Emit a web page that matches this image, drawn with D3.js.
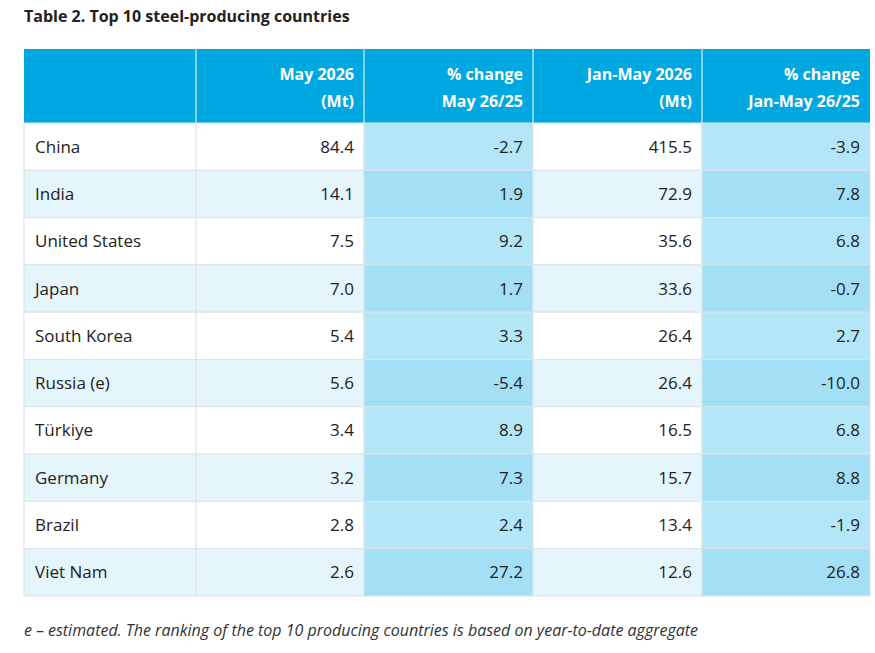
<!DOCTYPE html>
<html lang="en">
<head>
<meta charset="UTF-8">
<title>Top 10 steel-producing countries</title>
<script src="https://d3js.org/d3.v7.min.js"></script>
<style>
  body { margin: 0; background: #fff; font-family: "Open Sans", sans-serif; }
</style>
</head>
<body>
<svg id="chart"></svg>
<script>
const countries = ["China", "India", "United States", "Japan", "South Korea", "Russia (e)", "Türkiye", "Germany", "Brazil", "Viet Nam"];
const may2026 = ["84.4", "14.1", "7.5", "7.0", "5.4", "5.6", "3.4", "3.2", "2.8", "2.6"];
const changeMay = ["-2.7", "1.9", "9.2", "1.7", "3.3", "-5.4", "8.9", "7.3", "2.4", "27.2"];
const janMay2026 = ["415.5", "72.9", "35.6", "33.6", "26.4", "26.4", "16.5", "15.7", "13.4", "12.6"];
const changeJanMay = ["-3.9", "7.8", "6.8", "-0.7", "2.7", "-10.0", "6.8", "8.8", "-1.9", "26.8"];
const headers = [["", ""], ["May 2026", "(Mt)"], ["% change", "May 26/25"], ["Jan-May 2026", "(Mt)"], ["% change", "Jan-May 26/25"]];

const width = 875, height = 653;
const svg = d3.select("#chart").attr("width", width).attr("height", height);

const colEdges = [24, 196, 364, 533, 702, 870];
const x = i => colEdges[i];
const y = d3.scaleBand().domain(d3.range(countries.length)).range([123, 596]);
const cols = [countries, may2026, changeMay, janMay2026, changeJanMay];

svg.append("text").attr("x", 24).attr("y", 22)
  .attr("font-weight", 700).attr("font-size", 16).attr("fill", "#222")
  .text("Table 2. Top 10 steel-producing countries");

// header
svg.append("rect").attr("x", x(0)).attr("y", 49).attr("width", x(5) - x(0)).attr("height", 74).attr("fill", "#00a8e1");
headers.forEach((h, c) => {
  if (c > 0) svg.append("line").attr("x1", x(c)).attr("x2", x(c)).attr("y1", 49).attr("y2", 123).attr("stroke", "#fff");
  h.forEach((t, k) => {
    svg.append("text").attr("x", x(c + 1) - 10).attr("y", 80 + k * 27)
      .attr("text-anchor", "end").attr("font-weight", 700).attr("font-size", 16).attr("fill", "#fff").text(t);
  });
});

// body cells
const fill = (c, r) => {
  const odd = r % 2 === 1;
  if (c === 2 || c === 4) return odd ? "#a3dff5" : "#b3e6f7";
  return odd ? "#e5f5fc" : "#ffffff";
};
cols.forEach((vals, c) => {
  const g = svg.append("g");
  g.selectAll("rect").data(vals).join("rect")
    .attr("x", x(c)).attr("y", (d, r) => y(r))
    .attr("width", x(c + 1) - x(c)).attr("height", y.bandwidth())
    .attr("fill", (d, r) => fill(c, r)).attr("stroke", "#dde3e8").attr("stroke-width", 1);
  g.selectAll("text").data(vals).join("text")
    .attr("x", c === 0 ? x(0) + 11 : x(c + 1) - 10)
    .attr("y", (d, r) => y(r) + y.bandwidth() / 2 + 6)
    .attr("text-anchor", c === 0 ? "start" : "end")
    .attr("font-size", 17).attr("fill", "#222").text(d => d);
});

svg.append("text").attr("x", 24).attr("y", 636)
  .attr("font-style", "italic").attr("font-size", 16).attr("fill", "#333")
  .text("e – estimated. The ranking of the top 10 producing countries is based on year-to-date aggregate");
</script>
</body>
</html>
